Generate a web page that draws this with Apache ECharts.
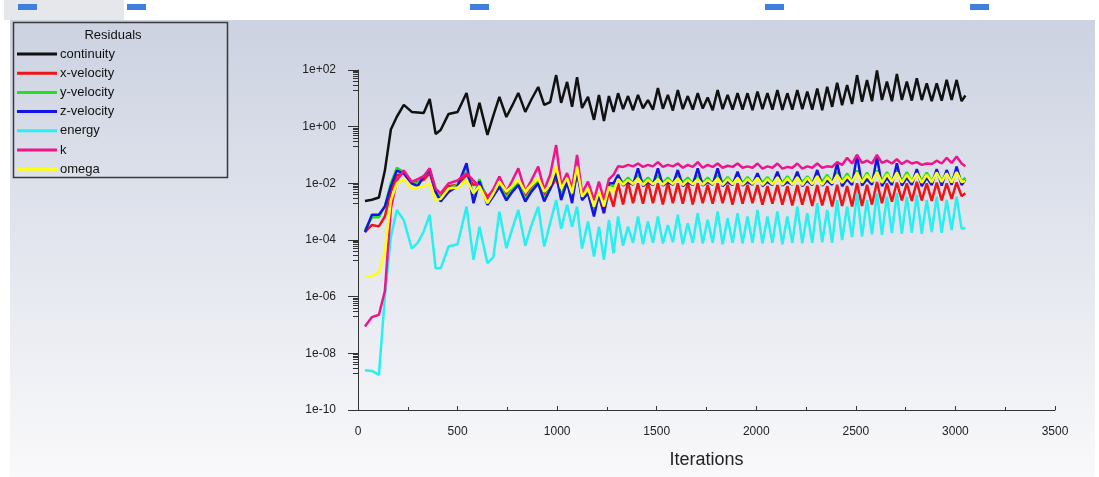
<!DOCTYPE html>
<html>
<head>
<meta charset="utf-8">
<title>Residuals</title>
<script src="https://cdn.jsdelivr.net/npm/echarts@6/dist/echarts.min.js"></script>
<style>
  html, body { margin: 0; padding: 0; background: #fff; }
  #chart { width: 1099px; height: 477px; }
</style>
</head>
<body>
<div id="chart"></div>
<script>
var iterEarly = [35, 70, 105, 135, 165, 195, 230, 270, 300, 330, 360, 390, 415, 455, 500, 545, 580, 610, 650, 680,
                 710, 745, 775, 805, 840, 870, 905, 935, 965, 995, 1020, 1050, 1075, 1100, 1125, 1155, 1185, 1210, 1235, 1260, 1283];
var iterPeaks = [1306, 1356, 1406, 1456, 1506, 1556, 1606, 1656, 1706, 1756, 1806, 1856, 1906, 1956, 2006, 2056, 2106, 2156,
                 2206, 2256, 2306, 2356, 2406, 2456, 2506, 2556, 2606, 2656, 2706, 2756, 2806, 2856, 2906, 2956, 3006];
var iterTroughs = [1331, 1381, 1431, 1481, 1531, 1581, 1631, 1681, 1731, 1781, 1831, 1881, 1931, 1981, 2031, 2081, 2131, 2181,
                   2231, 2281, 2331, 2381, 2431, 2481, 2531, 2581, 2631, 2681, 2731, 2781, 2831, 2881, 2931, 2981, 3031, 3050];

// residuals, stored as log10 of the value
var contEarly = [-2.62, -2.58, -2.5, -1.55, -0.1, 0.35, 0.77, 0.52, 0.5, 0.48, 0.98, -0.26, -0.12, 0.45, 0.52, 1.19, 0.0, 0.84, -0.29, 0.4,
                 1.05, 0.34, 0.75, 1.19, 0.52, 0.95, 1.40, 0.77, 0.87, 1.82, 0.84, 1.58, 0.70, 1.75, 0.66, 1.05, 0.24, 1.12, 0.20, 1.08, 0.52];
var contPeaks = [1.18, 1.08, 1.12, 0.94, 1.36, 1.12, 1.29, 1.08, 1.18, 1.03, 1.29, 1.12, 1.18, 1.18, 1.24, 1.18, 1.29, 1.18,
                 1.29, 1.24, 1.35, 1.41, 1.55, 1.47, 1.82, 1.65, 1.98, 1.59, 1.86, 1.59, 1.71, 1.53, 1.53, 1.65, 1.65];
var contTroughs = [0.62, 0.58, 0.65, 0.6, 0.63, 0.57, 0.62, 0.6, 0.64, 0.58, 0.62, 0.6, 0.6, 0.58, 0.62, 0.6, 0.59, 0.6,
                   0.62, 0.6, 0.58, 0.7, 0.76, 0.8, 0.88, 0.9, 0.94, 0.9, 0.94, 0.92, 0.94, 0.9, 0.92, 0.94, 0.9, 1.1];

var xvelEarly = [-3.72, -3.47, -3.52, -3.17, -2.3, -1.72, -1.64, -2.0, -1.95, -1.88, -1.64, -2.3, -2.47, -2.1, -2.05, -1.7, -2.06, -2.0, -2.47, -2.25,
                 -2.06, -2.41, -2.2, -2.0, -2.47, -2.2, -1.94, -2.41, -2.2, -1.82, -2.41, -2.0, -2.47, -1.64, -2.41, -2.23, -2.94, -2.47, -3.05, -2.29, -2.82];
var xvelPeaks = [-2.0, -1.95, -2.0, -1.95, -2.0, -1.97, -2.0, -1.95, -2.0, -2.05, -2.0, -2.05, -2.0, -2.05, -2.06, -2.1, -2.06, -2.1,
                 -2.06, -2.1, -2.06, -2.1, -2.05, -2.1, -2.0, -2.05, -1.95, -2.0, -1.97, -2.0, -1.95, -2.0, -1.97, -2.0, -1.97];
var xvelTroughs = [-2.75, -2.7, -2.72, -2.7, -2.75, -2.7, -2.72, -2.75, -2.7, -2.72, -2.7, -2.75, -2.72, -2.7, -2.75, -2.72, -2.75, -2.78,
                   -2.75, -2.8, -2.78, -2.82, -2.8, -2.82, -2.8, -2.75, -2.7, -2.65, -2.6, -2.62, -2.6, -2.62, -2.6, -2.55, -2.45, -2.35];

var yvelEarly = [-3.65, -3.2, -3.2, -2.8, -2.0, -1.45, -1.6, -1.95, -2.0, -1.75, -1.55, -2.2, -2.55, -2.2, -2.05, -1.4, -2.5, -1.85, -2.65, -2.35,
                 -2.05, -2.5, -2.2, -2.0, -2.55, -2.25, -1.95, -2.55, -2.15, -1.6, -2.5, -1.9, -2.6, -1.5, -2.5, -2.3, -3.0, -2.3, -2.95, -2.05, -2.1];
var yvelPeaks = [-1.75, -1.8, -1.72, -1.8, -1.72, -1.8, -1.72, -1.8, -1.72, -1.8, -1.72, -1.78, -1.72, -1.78, -1.7, -1.78, -1.7, -1.75,
                 -1.68, -1.75, -1.65, -1.7, -1.6, -1.65, -1.55, -1.62, -1.55, -1.6, -1.53, -1.6, -1.55, -1.62, -1.55, -1.6, -1.5];
var yvelTroughs = [-1.98, -2.0, -1.97, -2.0, -1.98, -2.0, -1.97, -2.0, -1.98, -2.0, -1.97, -2.0, -1.98, -2.0, -1.97, -2.0, -1.98, -2.0,
                   -1.97, -2.0, -1.95, -1.97, -1.93, -1.95, -1.92, -1.95, -1.93, -1.95, -1.92, -1.95, -1.93, -1.95, -1.92, -1.95, -1.93, -1.8];

var zvelEarly = [-3.72, -3.11, -3.11, -2.82, -2.1, -1.55, -1.65, -2.0, -2.1, -1.75, -1.53, -2.3, -2.64, -2.3, -2.1, -1.29, -2.7, -1.93, -2.76, -2.45,
                 -2.12, -2.6, -2.3, -2.06, -2.64, -2.3, -2.0, -2.64, -2.2, -1.64, -2.59, -1.94, -2.7, -1.53, -2.59, -2.35, -3.17, -2.35, -3.05, -2.0, -2.0];
var zvelPeaks = [-1.7, -1.95, -1.47, -1.95, -1.47, -1.95, -1.53, -1.95, -1.47, -1.95, -1.47, -1.95, -1.59, -1.95, -1.64, -1.95, -1.59, -1.95,
                 -1.59, -1.9, -1.53, -1.9, -1.29, -1.85, -1.0, -1.85, -1.06, -1.8, -1.29, -1.8, -1.5, -1.8, -1.5, -1.53, -1.41];
var zvelTroughs = [-2.08, -2.05, -2.1, -2.06, -2.08, -2.05, -2.1, -2.06, -2.08, -2.05, -2.1, -2.06, -2.08, -2.05, -2.1, -2.06, -2.08, -2.05,
                   -2.1, -2.06, -2.08, -2.05, -2.1, -2.06, -2.08, -2.05, -2.1, -2.06, -2.08, -2.05, -2.1, -2.06, -2.08, -2.05, -2.06, -1.88];

var energyEarly = [-8.6, -8.62, -8.76, -6.0, -3.9, -2.94, -3.3, -4.3, -4.1, -3.7, -3.11, -5.0, -5.0, -4.23, -4.15, -2.82, -4.7, -3.53, -4.82, -4.6,
                   -3.0, -4.29, -3.6, -2.94, -4.2, -3.5, -2.82, -4.23, -3.4, -2.59, -3.6, -2.76, -3.53, -2.82, -4.3, -3.35, -4.58, -3.53, -4.7, -3.29, -4.47];
var energyPeaks = [-3.17, -3.53, -3.17, -3.35, -3.17, -3.47, -3.11, -3.41, -3.05, -3.29, -2.99, -3.23, -3.05, -3.17, -2.94, -3.17, -2.99, -3.17,
                   -2.82, -3.05, -2.7, -2.94, -2.59, -2.82, -2.35, -2.59, -2.35, -2.47, -2.35, -2.47, -2.41, -2.59, -2.47, -2.59, -2.47];
var energyTroughs = [-4.2, -4.1, -4.15, -4.1, -4.12, -4.08, -4.15, -4.1, -4.12, -4.1, -4.15, -4.1, -4.12, -4.1, -4.12, -4.1, -4.15, -4.1,
                     -4.12, -4.1, -4.08, -4.1, -4.0, -3.9, -3.88, -3.8, -3.82, -3.76, -3.78, -3.75, -3.78, -3.72, -3.75, -3.65, -3.6, -3.58];

var kEarly = [-7.05, -6.72, -6.64, -5.8, -2.9, -1.9, -1.55, -1.95, -1.85, -1.75, -1.47, -2.2, -2.35, -2.0, -1.9, -1.64, -1.9, -2.12, -2.53, -2.2,
              -1.76, -2.3, -1.9, -1.47, -2.29, -1.9, -1.41, -2.23, -1.7, -0.65, -2.06, -1.64, -2.18, -1.0, -2.35, -1.94, -2.59, -1.94, -2.59, -1.85, -1.7];
var kPeaks = [-1.4, -1.35, -1.3, -1.35, -1.25, -1.35, -1.3, -1.35, -1.25, -1.35, -1.3, -1.38, -1.3, -1.4, -1.3, -1.4, -1.3, -1.42,
              -1.3, -1.4, -1.3, -1.4, -1.25, -1.1, -1.0, -1.2, -1.0, -1.2, -1.15, -1.2, -1.25, -1.3, -1.2, -1.1, -1.05];
var kTroughs = [-1.42, -1.4, -1.42, -1.4, -1.42, -1.4, -1.45, -1.42, -1.45, -1.42, -1.45, -1.42, -1.45, -1.45, -1.48, -1.45, -1.48, -1.45,
                -1.48, -1.45, -1.45, -1.42, -1.35, -1.3, -1.28, -1.3, -1.28, -1.3, -1.32, -1.3, -1.35, -1.32, -1.3, -1.28, -1.3, -1.4];

var omegaEarly = [-5.29, -5.27, -5.15, -4.4, -2.6, -2.0, -1.85, -2.18, -2.15, -2.1, -2.0, -2.6, -2.55, -2.18, -2.15, -1.88, -2.35, -2.1, -2.7, -2.35,
                  -1.94, -2.29, -2.1, -1.88, -2.29, -2.05, -1.82, -2.29, -2.05, -1.41, -2.18, -1.82, -2.35, -1.41, -2.47, -2.18, -2.82, -2.29, -2.82, -2.12, -2.3];
var omegaPeaks = [-1.85, -1.88, -1.82, -1.88, -1.85, -1.88, -1.82, -1.88, -1.85, -1.88, -1.82, -1.85, -1.8, -1.85, -1.8, -1.85, -1.78, -1.82,
                  -1.78, -1.8, -1.75, -1.78, -1.7, -1.75, -1.62, -1.7, -1.6, -1.68, -1.62, -1.7, -1.65, -1.7, -1.62, -1.65, -1.6];
var omegaTroughs = [-2.05, -2.02, -2.06, -2.03, -2.05, -2.02, -2.06, -2.03, -2.05, -2.02, -2.06, -2.03, -2.05, -2.02, -2.06, -2.03, -2.05, -2.04,
                    -2.06, -2.03, -2.05, -2.0, -1.98, -1.95, -1.97, -1.95, -1.98, -1.95, -1.97, -1.95, -1.98, -1.96, -1.95, -1.97, -1.95, -1.92];

var seriesNames = ['continuity', 'x-velocity', 'y-velocity', 'z-velocity', 'energy', 'k', 'omega'];
var seriesColors = ['#111111', '#f01414', '#22e022', '#1414e6', '#28f0f0', '#f0148c', '#ffff10'];
var yTickLabels = ['1e-10', '1e-08', '1e-06', '1e-04', '1e-02', '1e+00', '1e+02'];

var FONT = '"Liberation Sans", Arial, sans-serif';

// merge the three read-off segments into one sorted [iteration, residual] list
function buildPoints(early, peaks, troughs) {
    var pts = [];
    iterEarly.forEach(function (it, i) { pts.push([it, Math.pow(10, early[i])]); });
    iterPeaks.forEach(function (it, i) { pts.push([it, Math.pow(10, peaks[i])]); });
    iterTroughs.forEach(function (it, i) { pts.push([it, Math.pow(10, troughs[i])]); });
    pts.sort(function (a, b) { return a[0] - b[0]; });
    return pts;
}

var seriesData = [
    buildPoints(contEarly, contPeaks, contTroughs),
    buildPoints(xvelEarly, xvelPeaks, xvelTroughs),
    buildPoints(yvelEarly, yvelPeaks, yvelTroughs),
    buildPoints(zvelEarly, zvelPeaks, zvelTroughs),
    buildPoints(energyEarly, energyPeaks, energyTroughs),
    buildPoints(kEarly, kPeaks, kTroughs),
    buildPoints(omegaEarly, omegaPeaks, omegaTroughs)
];

// short ticks inside each decade, like the solver's log axis
var minorTickValues = [];
[2, 0, -2, -4, -6, -8].forEach(function (e) {
    for (var m = 2; m <= 9; m++) minorTickValues.push(m * Math.pow(10, e - 1));
});

var chartDom = document.getElementById('chart');
var myChart = echarts.init(chartDom);
var option;

option = {
    animation: false,
    backgroundColor: '#ffffff',
    textStyle: { fontFamily: FONT },
    graphic: [
        {
            type: 'rect', z: -100, silent: true,
            shape: { x: 10, y: 20, width: 1085, height: 457 },
            style: {
                fill: new echarts.graphic.LinearGradient(0, 0, 0, 1, [
                    { offset: 0, color: '#ccd2e1' },
                    { offset: 0.5, color: '#e3e6ee' },
                    { offset: 1, color: '#f9f9fb' }
                ])
            }
        },
        // toolbar strip at the top
        { type: 'rect', z: -90, silent: true, shape: { x: 4, y: 0, width: 120, height: 20 }, style: { fill: '#e6e7ea' } },
        { type: 'rect', z: -80, silent: true, shape: { x: 18, y: 4, width: 19, height: 6 }, style: { fill: '#3f7fe0' } },
        { type: 'rect', z: -80, silent: true, shape: { x: 127, y: 4, width: 19, height: 6 }, style: { fill: '#3f7fe0' } },
        { type: 'rect', z: -80, silent: true, shape: { x: 470, y: 4, width: 19, height: 6 }, style: { fill: '#3f7fe0' } },
        { type: 'rect', z: -80, silent: true, shape: { x: 765, y: 4, width: 19, height: 6 }, style: { fill: '#3f7fe0' } },
        { type: 'rect', z: -80, silent: true, shape: { x: 970, y: 4, width: 19, height: 6 }, style: { fill: '#3f7fe0' } },
        // legend frame and title
        {
            type: 'rect', z: 5, silent: true,
            shape: { x: 13.5, y: 22.5, width: 214, height: 155 },
            style: { fill: 'rgba(0,0,0,0)', stroke: '#3a3a3a', lineWidth: 1.5 }
        },
        {
            type: 'text', z: 5, silent: true, x: 113, y: 35,
            style: { text: 'Residuals', fontSize: 13, fill: '#111', fontFamily: FONT, align: 'center', verticalAlign: 'middle' }
        }
    ],
    legend: {
        data: seriesNames,
        orient: 'vertical',
        left: 17,
        top: 47,
        padding: 0,
        icon: 'rect',
        itemWidth: 40,
        itemHeight: 3,
        itemGap: 5.2,
        selectedMode: false,
        textStyle: { fontSize: 13, lineHeight: 14, color: '#111', fontFamily: FONT, padding: [0, 0, 0, -2] }
    },
    grid: { left: 358, right: 44, top: 70, bottom: 67 },
    xAxis: {
        type: 'value',
        min: 0,
        max: 3500,
        interval: 500,
        name: 'Iterations',
        nameLocation: 'middle',
        nameGap: 41,
        nameTextStyle: { fontSize: 18, color: '#222', fontFamily: '"Liberation Sans Narrow", "Liberation Sans", Arial, sans-serif' },
        axisLine: { show: true, lineStyle: { color: '#333', width: 1 } },
        axisTick: { show: true, inside: true, length: 4, lineStyle: { color: '#333' } },
        minorTick: { show: true, splitNumber: 2, length: 3, lineStyle: { color: '#333' } },
        axisLabel: {
            fontSize: 12, color: '#222', margin: 16, fontFamily: FONT,
            formatter: function (v) { return String(v); }
        },
        splitLine: { show: false }
    },
    yAxis: [
        {
            type: 'log',
            logBase: 10,
            min: 1e-10,
            max: 100,
            interval: 2,
            axisLine: { show: true, lineStyle: { color: '#333', width: 1 } },
            axisTick: { show: true, length: 10, lineStyle: { color: '#333' } },
            axisLabel: {
                fontSize: 12, color: '#222', margin: 22, fontFamily: FONT,
                formatter: function (v) {
                    var e = Math.round(Math.log(v) / Math.LN10);
                    return yTickLabels[(e + 10) / 2];
                }
            },
            splitLine: { show: false }
        },
        {
            type: 'log',
            logBase: 10,
            min: 1e-10,
            max: 100,
            position: 'left',
            offset: 0,
            axisLine: { show: false },
            axisTick: { show: true, length: 5, customValues: minorTickValues, lineStyle: { color: '#333' } },
            axisLabel: { show: false },
            splitLine: { show: false }
        }
    ],
    series: seriesNames.map(function (name, i) {
        return {
            name: name,
            type: 'line',
            yAxisIndex: 0,
            symbol: 'none',
            color: seriesColors[i],
            lineStyle: { width: 2.5, color: seriesColors[i] },
            data: seriesData[i]
        };
    })
};

myChart.setOption(option);
window.onresize = myChart.resize;
</script>
</body>
</html>
